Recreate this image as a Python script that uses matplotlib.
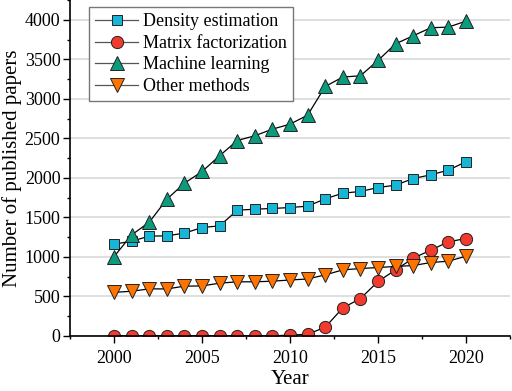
import matplotlib
matplotlib.use("Agg")
import matplotlib.pyplot as plt
from matplotlib import font_manager
from matplotlib.ticker import MultipleLocator

years = list(range(2000, 2021))
density = [1160, 1198, 1262, 1266, 1300, 1371, 1392, 1590, 1603, 1612, 1624,
           1641, 1734, 1806, 1827, 1877, 1907, 1991, 2038, 2097, 2203]
matrix = [0, 0, 0, 0, 0, 0, 0, 0, 0, 0, 10,
          20, 110, 354, 472, 688, 835, 983, 1085, 1190, 1232]
machine = [1004, 1278, 1439, 1730, 1932, 2080, 2280, 2472, 2532, 2616, 2679,
           2793, 3156, 3275, 3291, 3485, 3696, 3797, 3899, 3907, 3983]
other = [550, 565, 595, 594, 629, 632, 667, 684, 684, 692, 707,
         720, 772, 835, 852, 865, 878, 890, 928, 945, 1008]

labels = ["Density estimation", "Matrix factorization", "Machine learning", "Other methods"]

fams = []
for name in ['Liberation Serif', 'Times New Roman', 'Nimbus Roman', 'STIXGeneral']:
    try:
        font_manager.findfont(font_manager.FontProperties(family=name), fallback_to_default=False)
        fams.append(name)
    except Exception:
        pass
plt.rcParams['font.family'] = fams[:1] + ['DejaVu Serif']

fig = plt.figure(figsize=(5.12, 3.91), dpi=100)
ax = fig.add_axes([0.137, 0.141, 0.859, 0.859])

common = dict(color='black', lw=0.9, markeredgecolor='#222222', markeredgewidth=0.7)
ax.plot(years, density, marker='s', markersize=7.8, markerfacecolor='#17B6D6', label=labels[0], **common)
ax.plot(years, matrix, marker='o', markersize=8.8, markerfacecolor='#F33A2E', label=labels[1], **common)
ax.plot(years, machine, marker='^', markersize=9.5, markerfacecolor='#0C9B7D', label=labels[2], **common)
ax.plot(years, other, marker='v', markersize=9.5, markerfacecolor='#FF7300', label=labels[3], **common)

ax.set_xlim(1997.5, 2022.5)
ax.set_ylim(0, 4250)
ax.xaxis.set_major_locator(MultipleLocator(5))
ax.xaxis.set_minor_locator(MultipleLocator(2.5))
ax.yaxis.set_major_locator(MultipleLocator(500))
ax.yaxis.set_minor_locator(MultipleLocator(250))
ax.tick_params(which='major', direction='out', length=5, width=1, labelsize=13)
ax.tick_params(which='minor', direction='out', length=2.5, width=1)
ax.tick_params(axis='x', which='major', pad=5)
ax.tick_params(axis='y', which='major', pad=2)
ax.spines['top'].set_visible(False)
ax.spines['right'].set_visible(False)
for s in ('left', 'bottom'):
    ax.spines[s].set_linewidth(1.2)
ax.grid(axis='y', which='major', color='#d9d9d9', lw=1.2)
ax.set_axisbelow(True)

ax.set_xlabel("Year", fontsize=15, labelpad=2.5)
ax.set_ylabel("Number of published papers", fontsize=15, labelpad=2)

leg = ax.legend(loc='upper left', bbox_to_anchor=(0.03, 0.995), fontsize=13, frameon=True,
                fancybox=False, edgecolor='#777777', framealpha=1, borderpad=0.35,
                labelspacing=0.25, handlelength=2.4, handletextpad=0.25, borderaxespad=0.3)
leg.get_frame().set_linewidth(1.0)
for h in leg.get_lines():
    h.set_color('#555555')

fig.savefig("out.png", dpi=100)
